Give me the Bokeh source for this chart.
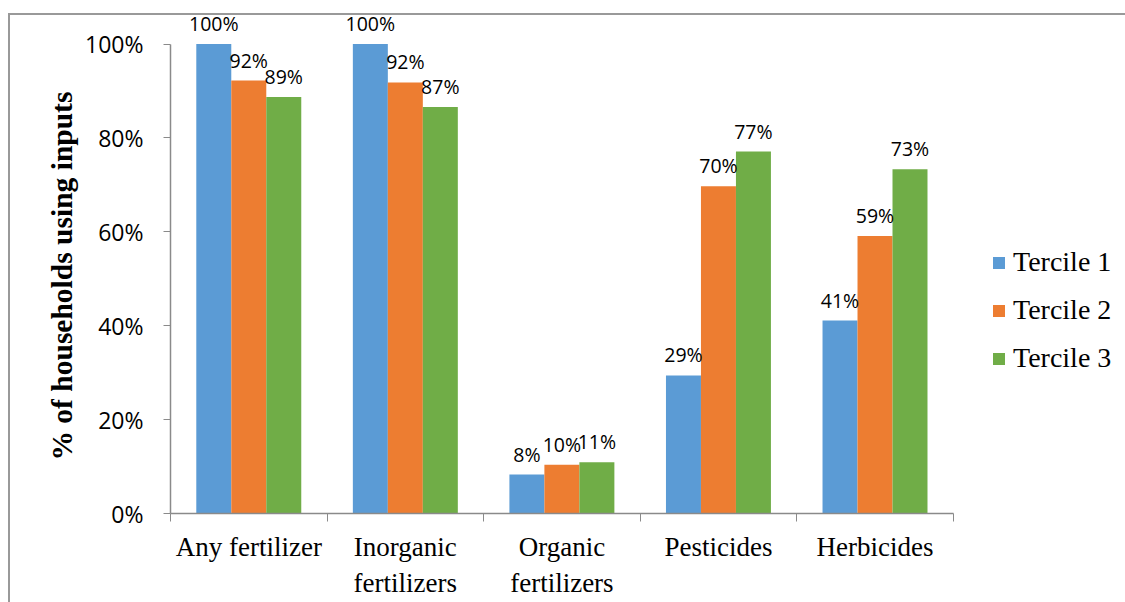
from bokeh.plotting import figure
from bokeh.models import (ColumnDataSource, FixedTicker, NumeralTickFormatter, LabelSet,
                          Legend, LegendItem, Range1d, Title)
from bokeh.core.properties import value
from bokeh.embed import file_html
from bokeh.resources import INLINE

categories = ["Any fertilizer", "Inorganic\nfertilizers", "Organic\nfertilizers", "Pesticides", "Herbicides"]
series_names = ["Tercile 1", "Tercile 2", "Tercile 3"]
tercile1 = [1.00, 1.00, 0.083, 0.294, 0.411]
tercile2 = [0.922, 0.918, 0.104, 0.697, 0.591]
tercile3 = [0.887, 0.866, 0.109, 0.771, 0.733]
y_ticks = [0, 0.2, 0.4, 0.6, 0.8, 1.0]
colors = ["#5B9BD5", "#ED7D31", "#70AD47"]

series = [tercile1, tercile2, tercile3]
n = len(categories)
bar_w = 0.2235
offsets = [-bar_w, 0.0, bar_w]

# frame covers plot area plus the legend zone on the right (axis lines are bounded)
p = figure(width=1125, height=602, x_range=Range1d(0, 6.1), y_range=Range1d(0, 513 / 469.5),
           output_backend="svg", toolbar_location=None,
           min_border_left=170, min_border_right=0, min_border_top=0, min_border_bottom=89)
p.outline_line_color = None
p.xgrid.visible = False
p.ygrid.visible = False
p.background_fill_color = "white"
p.border_fill_color = "white"

axis_col = "#8a8a8a"
renderers = []
for vals, off, col, name in zip(series, offsets, colors, series_names):
    src = ColumnDataSource(dict(
        x=[i + 0.5 + off for i in range(n)],
        top=vals,
        lab=["{:.0f}%".format(v * 100) for v in vals],
    ))
    r = p.vbar(x="x", top="top", width=bar_w, bottom=0, source=src,
               fill_color=col, line_color=None)
    renderers.append(r)
    ls = LabelSet(x="x", y="top", text="lab", source=src, text_align="center",
                  text_baseline="alphabetic", y_offset=13,
                  text_font=value("Open Sans"), text_font_size="19.5px", text_color="#000000")
    p.add_layout(ls)

# x axis
xa = p.xaxis[0]
xa.bounds = (0, n)
xa.ticker = FixedTicker(ticks=[i + 0.5 for i in range(n)], minor_ticks=list(range(n + 1)))
xa.major_label_overrides = {i + 0.5: c for i, c in enumerate(categories)}
xa.major_tick_out = 0
xa.major_tick_in = 0
xa.minor_tick_out = 8
xa.minor_tick_in = 0
xa.minor_tick_line_color = axis_col
xa.axis_line_color = axis_col
xa.axis_line_width = 1.5
xa.major_label_standoff = 10
xa.major_label_text_font = "Liberation Serif"
xa.major_label_text_font_size = "27px"
xa.major_label_text_line_height = 1.22
xa.major_label_text_color = "#000000"

# y axis
ya = p.yaxis[0]
ya.ticker = FixedTicker(ticks=y_ticks, minor_ticks=[])
ya.formatter = NumeralTickFormatter(format="0%")
ya.bounds = (0, 1)
ya.major_tick_out = 7
ya.major_tick_in = 0
ya.major_tick_line_color = axis_col
ya.axis_line_color = axis_col
ya.axis_line_width = 1.5
ya.major_label_standoff = 20
ya.major_label_text_font = "Open Sans"
ya.major_label_text_font_size = "23px"
ya.major_label_text_color = "#000000"

ytitle = Title(text="% of households using inputs", align="left", offset=53,
               text_font="Liberation Serif", text_font_style="bold",
               text_font_size="29.5px", text_color="#000000")
p.add_layout(ytitle, "left")

legend = Legend(items=[LegendItem(label=nm, renderers=[r]) for nm, r in zip(series_names, renderers)],
                location=(821, 139), orientation="vertical",
                border_line_color=None, background_fill_alpha=0,
                padding=0, margin=0, glyph_width=15, glyph_height=15,
                label_standoff=7, spacing=16,
                label_text_font="Liberation Serif", label_text_font_size="28px",
                label_text_color="#000000")
p.add_layout(legend)

try:
    from bokeh.models import GlobalInlineStyleSheet
    css = (
        "body::before{content:'';position:fixed;left:8px;right:0;top:13px;height:2px;"
        "background:#999999;z-index:100;pointer-events:none;}"
        "body::after{content:'';position:fixed;left:8px;top:13px;bottom:0;width:2px;"
        "background:#999999;z-index:100;pointer-events:none;}"
    )
    p.stylesheets = [GlobalInlineStyleSheet(css=css)]
except Exception:
    pass

open("out.html", "w").write(file_html(p, INLINE))
